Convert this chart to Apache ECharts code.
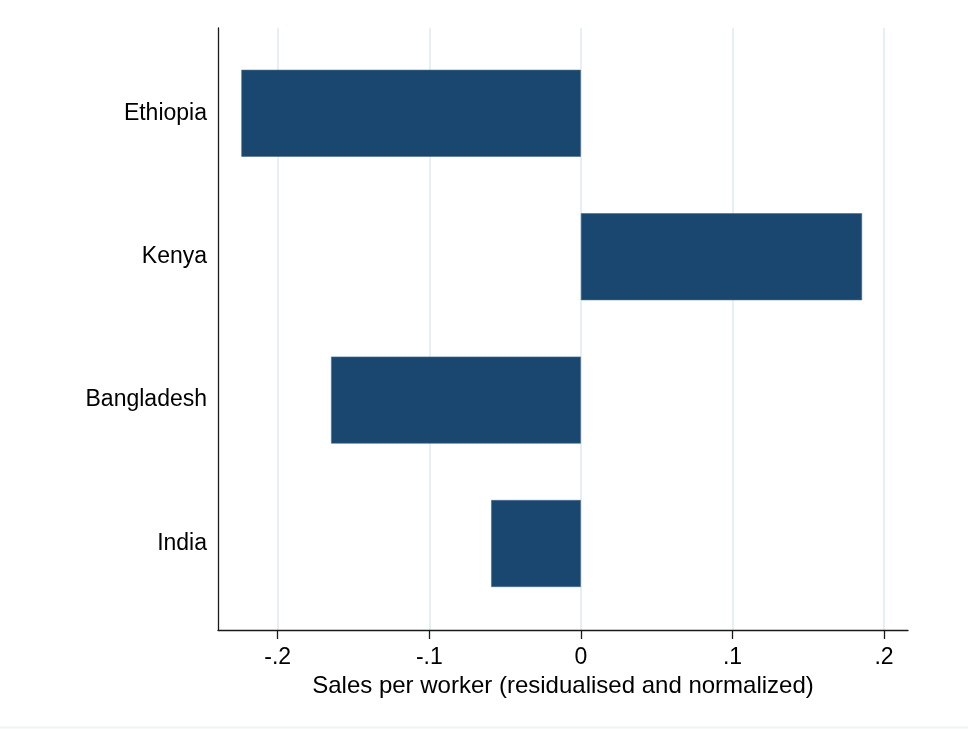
<!DOCTYPE html>
<html>
<head>
<meta charset="utf-8">
<script src="https://cdn.jsdelivr.net/npm/echarts@6/dist/echarts.min.js"></script>
<style>
  html, body { margin: 0; padding: 0; background: #ffffff; }
  #chart { width: 968px; height: 729px; }
</style>
</head>
<body>
<div id="chart"></div>
<script>
// Countries, top to bottom
const countries = ['Ethiopia', 'Kenya', 'Bangladesh', 'India'];
// Sales per worker, residualised and normalized
const salesPerWorker = [-0.224, 0.1855, -0.1648, -0.0592];
// X axis ticks and their printed labels
const tickValues = [-0.2, -0.1, 0, 0.1, 0.2];
const tickLabels = ['-.2', '-.1', '0', '.1', '.2'];
// X axis range
const xMin = -0.2394;
const xMax = 0.2158;

const FONT = '"Liberation Sans", Arial, Helvetica, sans-serif';
const BAR_COLOR = '#1a476f';

const chart = echarts.init(document.getElementById('chart'), null, { renderer: 'canvas' });

const option = {
  backgroundColor: '#ffffff',
  animation: false,
  grid: [
    // bars and country labels
    { left: 218, right: 60, top: 41.6, bottom: 113.8 },
    // frame: axis lines, ticks, grid lines, title
    { left: 218, right: 60, top: 28, bottom: 99 }
  ],
  xAxis: [
    {
      gridIndex: 0,
      type: 'value',
      min: xMin,
      max: xMax,
      show: false
    },
    {
      gridIndex: 1,
      type: 'value',
      min: xMin,
      max: xMax,
      name: 'Sales per worker (residualised and normalized)',
      nameLocation: 'middle',
      nameGap: 39,
      nameTextStyle: { fontFamily: FONT, fontSize: 24, color: '#000' },
      axisLine: { show: true, onZero: false, lineStyle: { color: '#1a1a1a', width: 1.3 } },
      axisTick: {
        show: true,
        length: 9,
        customValues: tickValues,
        lineStyle: { color: '#1a1a1a', width: 1.3 }
      },
      axisLabel: {
        customValues: tickValues,
        margin: 16,
        fontFamily: FONT,
        fontSize: 23,
        color: '#000',
        formatter: function (v) {
          const i = tickValues.findIndex(t => Math.abs(t - v) < 1e-9);
          return i >= 0 ? tickLabels[i] : '';
        }
      },
      splitLine: { show: true, lineStyle: { color: '#e6f0f2', width: 2 } }
    }
  ],
  yAxis: [
    {
      gridIndex: 0,
      type: 'category',
      data: countries,
      inverse: true,
      axisLine: { show: false },
      axisTick: { show: false },
      axisLabel: {
        margin: 11,
        fontFamily: FONT,
        fontSize: 23,
        color: '#000',
        lineHeight: 28,
        padding: [5, 0, 0, 0]
      },
      splitLine: { show: false }
    },
    {
      gridIndex: 1,
      type: 'value',
      min: 0,
      max: 1,
      axisLine: { show: true, onZero: false, lineStyle: { color: '#1a1a1a', width: 1.3 } },
      axisTick: { show: false },
      axisLabel: { show: false },
      splitLine: { show: false }
    }
  ],
  series: [
    {
      type: 'bar',
      xAxisIndex: 0,
      yAxisIndex: 0,
      data: salesPerWorker,
      barWidth: 87,
      itemStyle: { color: BAR_COLOR, borderColor: '#4a6b8c', borderWidth: 0.6 },
      z: 3
    }
  ],
  graphic: [
    {
      type: 'line',
      shape: { x1: 0, y1: 727.5, x2: 968, y2: 727.5 },
      style: { stroke: '#eef3f3', lineWidth: 2 },
      silent: true
    }
  ]
};

chart.setOption(option);
</script>
</body>
</html>
